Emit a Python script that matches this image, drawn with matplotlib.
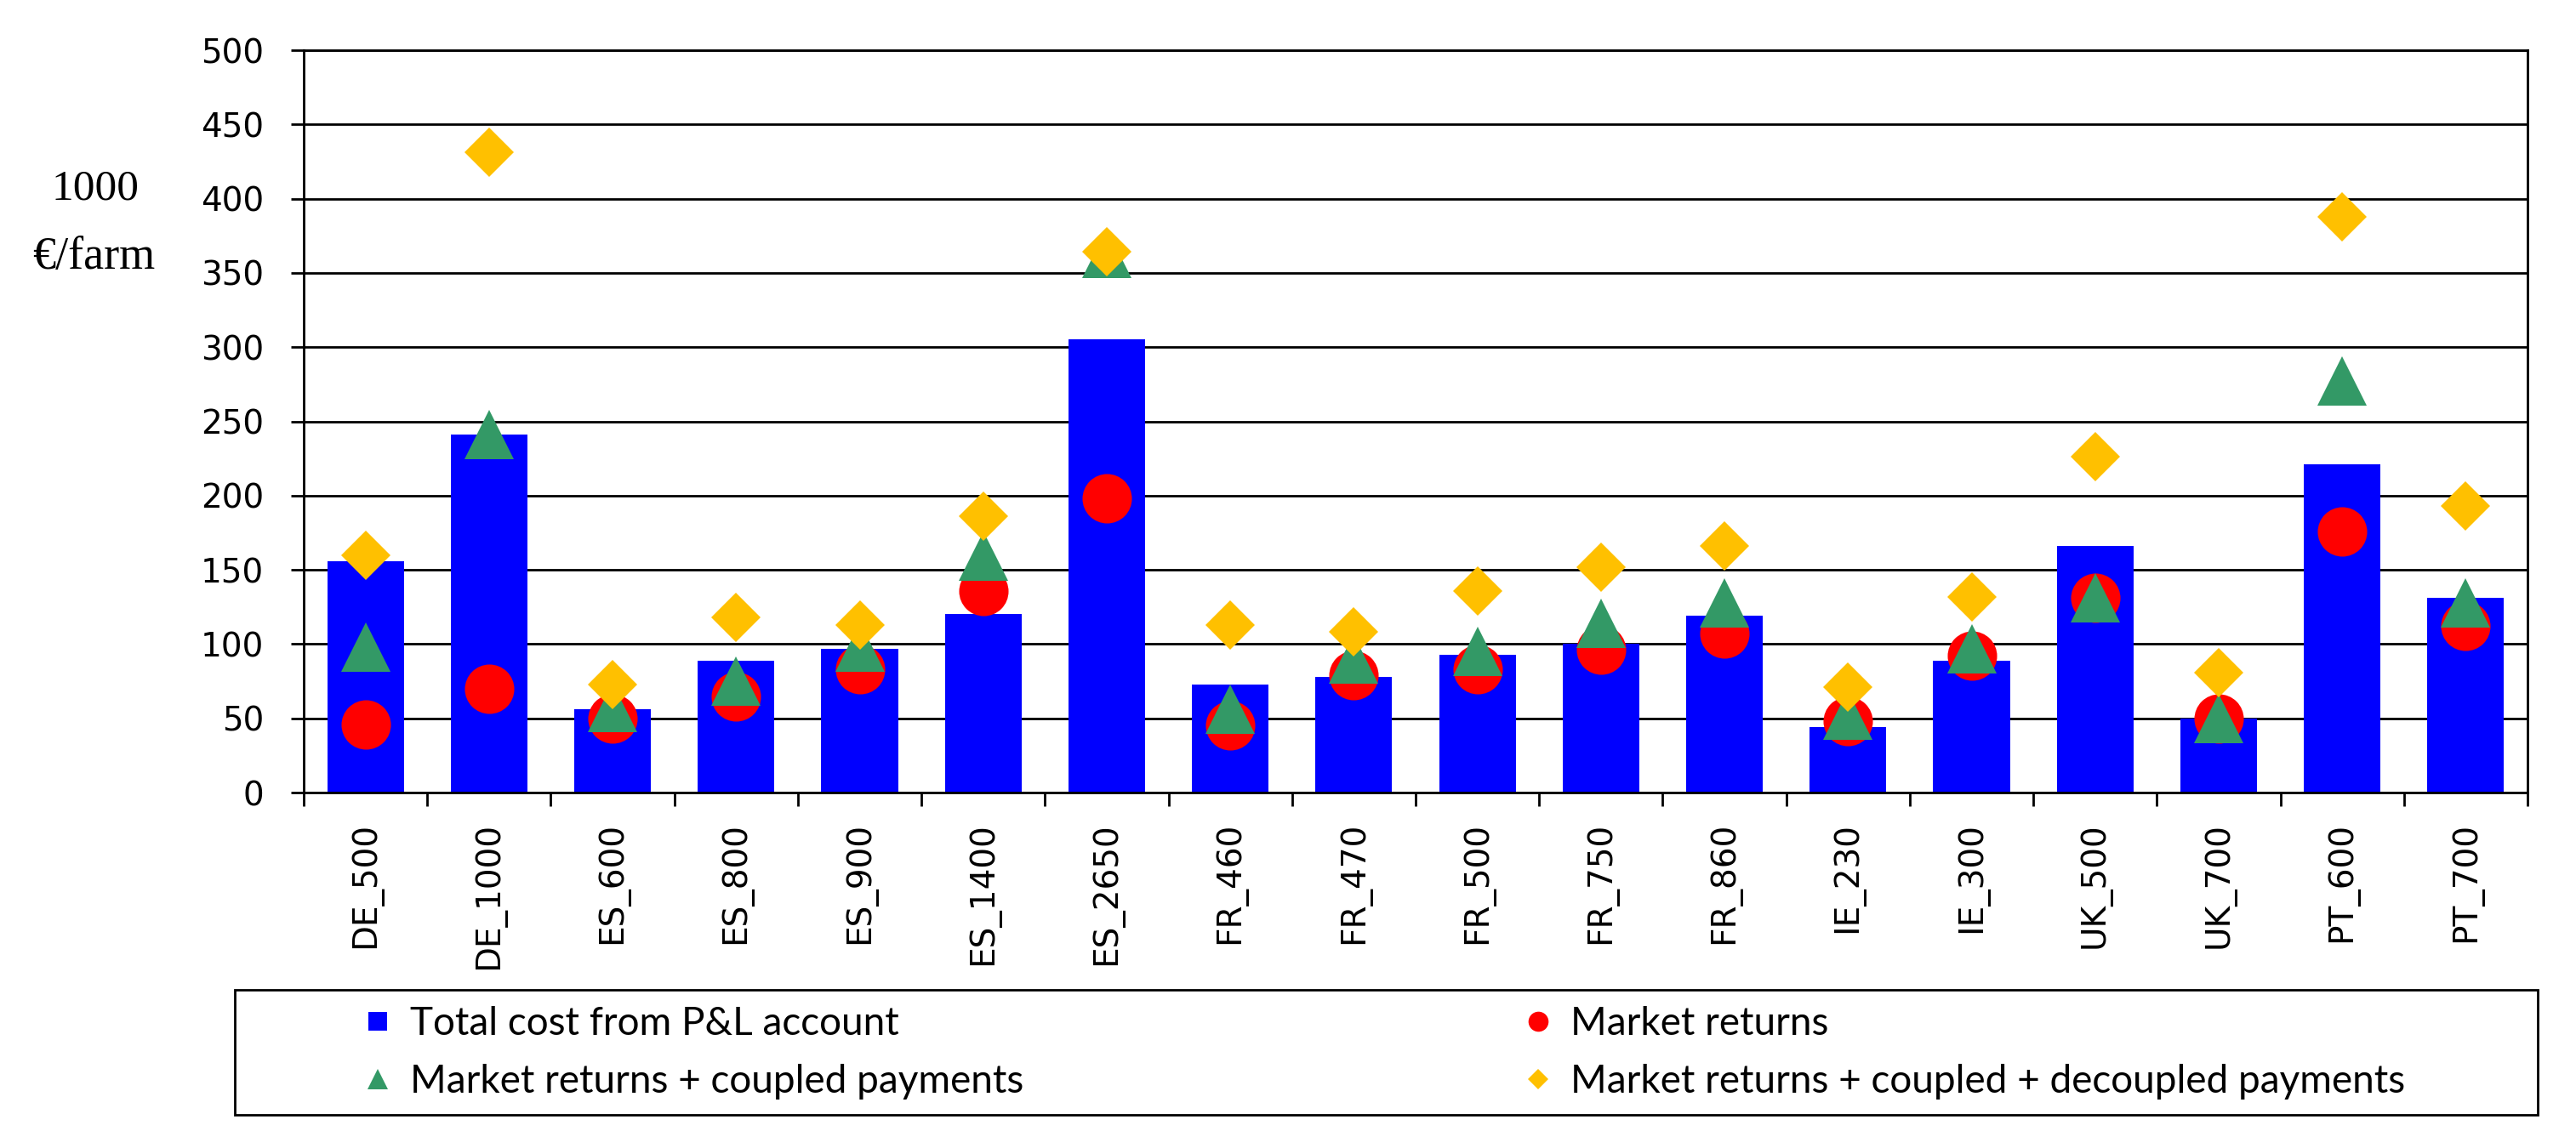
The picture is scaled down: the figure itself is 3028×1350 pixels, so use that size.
import matplotlib
matplotlib.use("Agg")
import matplotlib.pyplot as plt
from matplotlib.patches import Rectangle
from matplotlib.lines import Line2D
import numpy as np

categories = ["DE_500", "DE_1000", "ES_600", "ES_800", "ES_900", "ES_1400", "ES_2650",
              "FR_460", "FR_470", "FR_500", "FR_750", "FR_860", "IE_230", "IE_300",
              "UK_500", "UK_700", "PT_600", "PT_700"]
total_cost = [156, 241, 56, 89, 97, 120, 305, 73, 78, 93, 100, 119, 44, 89, 166, 50, 221, 131]
market_returns = [46, 70, 50, 65, 83, 136, 198, 45, 79, 83, 96, 107, 48, 92, 131, 50, 176, 112]
market_coupled = [98, 241, 57, 75, 98, 159, 363, 56, 90, 95, 114, 128, 52, 97, 131, 50, 277, 128]
market_coupled_decoupled = [160, 431, 73, 118, 113, 186, 364, 113, 108, 136, 152, 166, 71, 132, 226, 81, 388, 193]
yticks = [0, 50, 100, 150, 200, 250, 300, 350, 400, 450, 500]
label_total = "Total cost from P&L account"
label_market = "Market returns"
label_coupled = "Market returns + coupled payments"
label_decoupled = "Market returns + coupled + decoupled payments"

W, H = 3028, 1350
DPI = 200
fig = plt.figure(figsize=(W / DPI, H / DPI), dpi=DPI)

left, right, top, bottom = 357, 2971, 59, 932
ax = fig.add_axes([left / W, 1 - bottom / H, (right - left) / W, (bottom - top) / H])

x = np.arange(len(categories))
ax.bar(x, total_cost, width=0.62, color="#0000FF", zorder=2)
ax.plot(x, market_returns, ls="none", marker="o", ms=20.9, color="#FF0000", mew=0, zorder=3)
ax.plot(x, market_coupled, ls="none", marker="^", ms=20.9, color="#339966", mew=0, zorder=4)
ax.plot(x, market_coupled_decoupled, ls="none", marker="D", ms=14.8, color="#FFC000", mew=0, zorder=5)

ax.set_xlim(-0.5, len(categories) - 0.5)
ax.set_ylim(0, 500)
ax.set_yticks(yticks)
ax.set_axisbelow(True)
ax.yaxis.grid(True, color="black", lw=1.0)
for s in ax.spines.values():
    s.set_color("black")
    s.set_linewidth(1.0)

ax.set_xticks(x)
ax.set_xticklabels(categories, rotation=90, fontsize=14, family="DejaVu Sans", va="top")
ax.set_xticks(np.arange(-0.5, len(categories)), minor=True)
ax.tick_params(axis="x", which="major", length=0, pad=12.6)
ax.tick_params(axis="x", which="minor", length=5.8, width=1.0, direction="out")
ax.tick_params(axis="y", which="major", length=5.4, width=1.0, direction="out", pad=11.5,
               labelsize=14)
for lab in ax.get_yticklabels():
    lab.set_family("DejaVu Sans")

fig.text(112 / W, 1 - 222 / H, "1000", ha="center", va="center",
         family="Liberation Serif", fontsize=18.5)
fig.text(110 / W, 1 - 303 / H, "€/farm", ha="center", va="center",
         family="Liberation Serif", fontsize=19.5)

# legend frame
fig.patches.append(Rectangle((276 / W, 1 - 1311 / H), (2983 - 276) / W, (1311 - 1164) / H,
                             transform=fig.transFigure, fill=False, edgecolor="black",
                             lw=1.0))

h_total = Line2D([], [], ls="none", marker="s", ms=8, color="#0000FF", mew=0)
h_market = Line2D([], [], ls="none", marker="o", ms=8.5, color="#FF0000", mew=0)
h_coupled = Line2D([], [], ls="none", marker="^", ms=8.5, color="#339966", mew=0)
h_decoupled = Line2D([], [], ls="none", marker="D", ms=6.3, color="#FFC000", mew=0)

# column-major fill: column 1 = total, coupled ; column 2 = market, decoupled
leg = fig.legend([h_total, h_coupled, h_market, h_decoupled],
                 [label_total, label_coupled, label_market, label_decoupled],
                 ncol=2, loc="center left",
                 bbox_to_anchor=(426 / W, 1 - 1238 / H), bbox_transform=fig.transFigure,
                 frameon=False, borderpad=0, borderaxespad=0, handlelength=0.8,
                 handletextpad=0.42, columnspacing=12.8, labelspacing=0.55,
                 prop={"family": "Lato", "size": 16.5})

fig.savefig("out.png", dpi=DPI)
